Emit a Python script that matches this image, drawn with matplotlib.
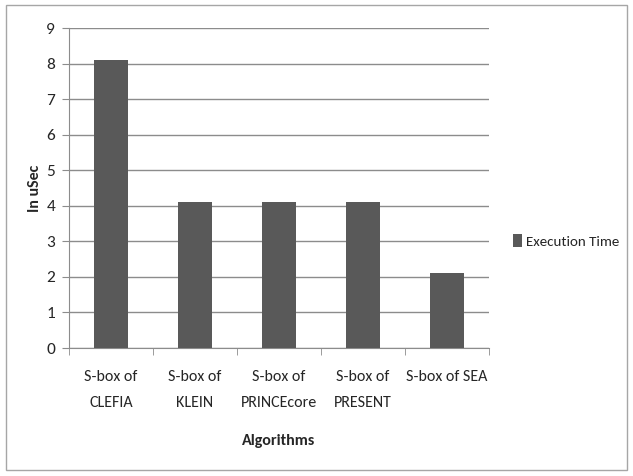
import matplotlib
matplotlib.use("Agg")
import matplotlib.pyplot as plt
from matplotlib.patches import Rectangle
from matplotlib import font_manager

categories = ["S-box of\nCLEFIA", "S-box of\nKLEIN", "S-box of\nPRINCEcore",
              "S-box of\nPRESENT", "S-box of SEA"]
execution_time = [8.1, 4.1, 4.1, 4.1, 2.1]
y_ticks = list(range(0, 10))
series_name = "Execution Time"

available = {f.name for f in font_manager.fontManager.ttflist}
preferred = ["Carlito", "Calibri", "Lato"]
family = next(f for f in preferred if f in available)
plt.rcParams['font.family'] = [family, 'DejaVu Sans']

bar_color = "#595959"
grid_color = "#8c8c8c"
text_color = "#262626"

fig = plt.figure(figsize=(6.33, 4.76), dpi=100)
fig.patch.set_facecolor("white")

# outer chart border
fig.add_artist(Rectangle((6 / 633, 1 - 470 / 476), 621 / 633, 465 / 476,
                         transform=fig.transFigure, fill=False,
                         edgecolor="#a6a6a6", linewidth=1.0))

ax = fig.add_axes([69 / 633, 1 - 348 / 476, 420 / 633, 320 / 476])
x = list(range(len(categories)))
bars = ax.bar(x, execution_time, width=0.4, color=bar_color, zorder=3,
              label=series_name)

fs = 11.5
ax.set_xlim(-0.5, len(categories) - 0.5)
ax.set_ylim(0, 9)
ax.set_yticks(y_ticks)
ax.set_yticklabels([str(t) for t in y_ticks], fontsize=fs + 1, color=text_color)
ax.yaxis.grid(True, color=grid_color, linewidth=1.0, zorder=0)

ax.set_xticks(x)
ax.set_xticklabels(categories, fontsize=fs, linespacing=2.1, color=text_color)
ax.tick_params(axis='x', length=0, pad=16)
# category boundary tick marks
ax.set_xticks([i - 0.5 for i in range(len(categories) + 1)], minor=True)
ax.tick_params(axis='x', which='minor', length=5, color=grid_color, direction='out')
ax.tick_params(axis='y', length=5, color=grid_color, direction='out', pad=5)

for side in ["top", "right"]:
    ax.spines[side].set_visible(False)
ax.spines["left"].set_color(grid_color)
ax.spines["bottom"].set_color(grid_color)

ax.set_ylabel("In uSec", fontsize=fs, fontweight="bold", labelpad=3,
              color=text_color)
ax.set_xlabel("Algorithms", fontsize=fs, fontweight="bold", labelpad=17,
              color=text_color)

leg = fig.legend(handles=[bars], labels=[series_name], loc="center left",
                 bbox_to_anchor=(513 / 633, 1 - 241 / 476), frameon=False,
                 fontsize=10.8, handlelength=0.6, handleheight=0.9,
                 handletextpad=0.3, borderaxespad=0, borderpad=0,
                 labelcolor=text_color)

fig.savefig("out.png", dpi=100, facecolor="white")
